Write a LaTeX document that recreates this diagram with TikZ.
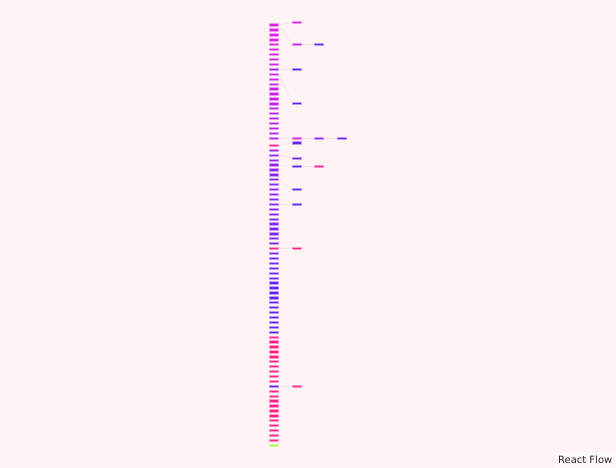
\documentclass[tikz,border=0pt]{standalone}
\usepackage{fontspec}
\newfontfamily\rffont{DejaVu Sans}
\definecolor{bg}{HTML}{FFF4F3}
\definecolor{magA}{HTML}{E41EE8}
\definecolor{purA}{HTML}{9422F2}
\definecolor{bluA}{HTML}{5A1EF2}
\definecolor{pinkA}{HTML}{FF1E8C}
\definecolor{limeA}{HTML}{A6F53A}
\definecolor{edgec}{HTML}{F3E1E1}
\begin{document}
\begin{tikzpicture}[x=1pt,y=-1pt,
  nd/.style={rectangle, inner sep=0pt, minimum width=9pt, minimum height=2.3pt,
             line width=0.8pt, fill=#1, draw=#1!45!white},
  ed/.style={draw=edgec, line width=0.5pt},
  attr/.style={fill=white, fill opacity=0.5, text opacity=1, text=black!85,
               inner xsep=3.5pt, inner ysep=3.8pt, anchor=south east,
               font=\rffont\fontsize{10}{12}\selectfont}]
\fill[bg] (0,0) rectangle (616,468);
\useasboundingbox (0,0) rectangle (616,468);
% column of nodes
\foreach \i in {0,...,85}{
  \ifnum\i<24
    \pgfmathsetmacro\yy{25+4.926*\i}
    \pgfmathtruncatemacro\mixp{100-60*(\i/23)^1.4}
    \colorlet{cc}{magA!\mixp!purA}
  \else
    \pgfmathsetmacro\yy{145.3+4.918*(\i-24)}
    \pgfmathtruncatemacro\mixp{max(0,min(100,100-100*(max(0,\i-25)/37)^1.4))}
    \colorlet{cc}{purA!\mixp!bluA}
  \fi
  \ifnum\i=9 \colorlet{cc}{purA}\fi
  \ifnum\i=24 \colorlet{cc}{pinkA}\fi
  \ifnum\i=45 \colorlet{cc}{pinkA}\fi
  \ifnum\i>62 \ifnum\i<85 \ifnum\i=73 \else \colorlet{cc}{pinkA}\fi\fi\fi
  \ifnum\i=85 \colorlet{cc}{limeA}\fi
  \node[nd=cc] (c\i) at (274,\yy) {};
}
% second level
\node[nd=magA] (r1) at (297,22.3) {};
\node[nd=magA!45!purA] (r2) at (297,44.7) {};
\node[nd=bluA!85!purA] (s1) at (319,44.7) {};
\node[nd=bluA] (r3) at (297,69.3) {};
\node[nd=bluA!85!purA] (r4) at (297,103.3) {};
\node[nd=magA] (r5) at (297,138.3) {};
\node[nd=purA] (s2) at (319,138.3) {};
\node[nd=bluA!70!purA] (t1) at (342,138.3) {};
\node[nd=bluA!70!purA] (r6) at (297,143) {};
\node[nd=bluA!55!purA] (r7) at (297,158.3) {};
\node[nd=bluA] (r8) at (297,166.3) {};
\node[nd=pinkA] (s3) at (319,166.3) {};
\node[nd=bluA!85!purA] (r9) at (297,189.3) {};
\node[nd=bluA] (r10) at (297,204.3) {};
\node[nd=pinkA] (r11) at (297,248.5) {};
\node[nd=pinkA] (r12) at (297,386.3) {};
% edges
\draw[ed] (c0.east) -- (r1.west);
\draw[ed] (c0.east) -- (r2.west);
\draw[ed] (r2.east) -- (s1.west);
\draw[ed] (c9.east) -- (r3.west);
\draw[ed] (c10.east) -- (r4.west);
\draw[ed] (c23.east) -- (r5.west);
\draw[ed] (r5.east) -- (s2.west);
\draw[ed] (s2.east) -- (t1.west);
\draw[ed] (c24.east) -- (r6.west);
\draw[ed] (c26.east) -- (r7.west);
\draw[ed] (c28.east) -- (r8.west);
\draw[ed] (r8.east) -- (s3.west);
\draw[ed] (c31.east) -- (r9.west);
\draw[ed] (c36.east) -- (r10.west);
\draw[ed] (c45.east) -- (r11.west);
\draw[ed] (c73.east) -- (r12.west);
% attribution
\node[attr] (rf) at (616,468) {React Flow};
\end{tikzpicture}
\end{document}
